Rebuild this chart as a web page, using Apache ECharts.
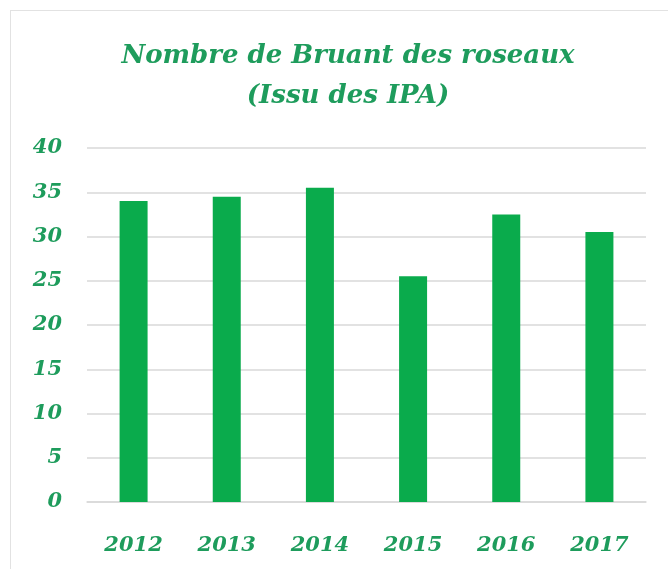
<!DOCTYPE html>
<html>
<head>
<meta charset="utf-8">
<script src="https://cdn.jsdelivr.net/npm/echarts@6/dist/echarts.min.js"></script>
<style>
  html, body { margin: 0; padding: 0; background: #fff; }
  #frame {
    position: absolute; left: 10px; top: 10px; width: 660px; height: 570px;
    border-left: 1px solid #e2e2e2; border-top: 1px solid #e2e2e2;
  }
  #chart { position: absolute; left: 0; top: 0; width: 668px; height: 569px; }
</style>
</head>
<body>
<div id="frame"></div>
<div id="chart"></div>
<script>
// données
var years = ['2012', '2013', '2014', '2015', '2016', '2017'];
var counts = [34, 34.5, 35.5, 25.5, 32.5, 30.5];
var yTicks = [0, 5, 10, 15, 20, 25, 30, 35, 40];

var green = '#1e9c5c';
var font = '"DejaVu Serif", "Liberation Serif", serif';

var myChart = echarts.init(document.getElementById('chart'));
myChart.setOption({
  animation: false,
  title: {
    text: 'Nombre de Bruant des roseaux\n(Issu des IPA)',
    left: 343,
    top: 31,
    textAlign: 'center',
    textStyle: {
      color: green,
      fontFamily: font,
      fontStyle: 'italic',
      fontWeight: 'bold',
      fontSize: 26,
      lineHeight: 40
    }
  },
  grid: {
    left: 87,
    right: 22,
    top: 148,
    bottom: 67
  },
  xAxis: {
    type: 'category',
    data: years,
    axisTick: { show: false },
    axisLine: { lineStyle: { color: '#d9d9d9', width: 1.5 } },
    axisLabel: {
      color: green,
      fontFamily: font,
      fontStyle: 'italic',
      fontWeight: 'bold',
      fontSize: 21,
      margin: 33
    }
  },
  yAxis: {
    type: 'value',
    min: yTicks[0],
    max: yTicks[yTicks.length - 1],
    interval: 5,
    axisLine: { show: false },
    axisTick: { show: false },
    splitLine: { lineStyle: { color: '#d9d9d9', width: 1.5 } },
    axisLabel: {
      color: green,
      fontFamily: font,
      fontStyle: 'italic',
      fontWeight: 'bold',
      fontSize: 21,
      margin: 25
    }
  },
  series: [{
    type: 'bar',
    data: counts,
    barWidth: 28,
    itemStyle: { color: '#0aab4c' }
  }]
});
</script>
</body>
</html>
